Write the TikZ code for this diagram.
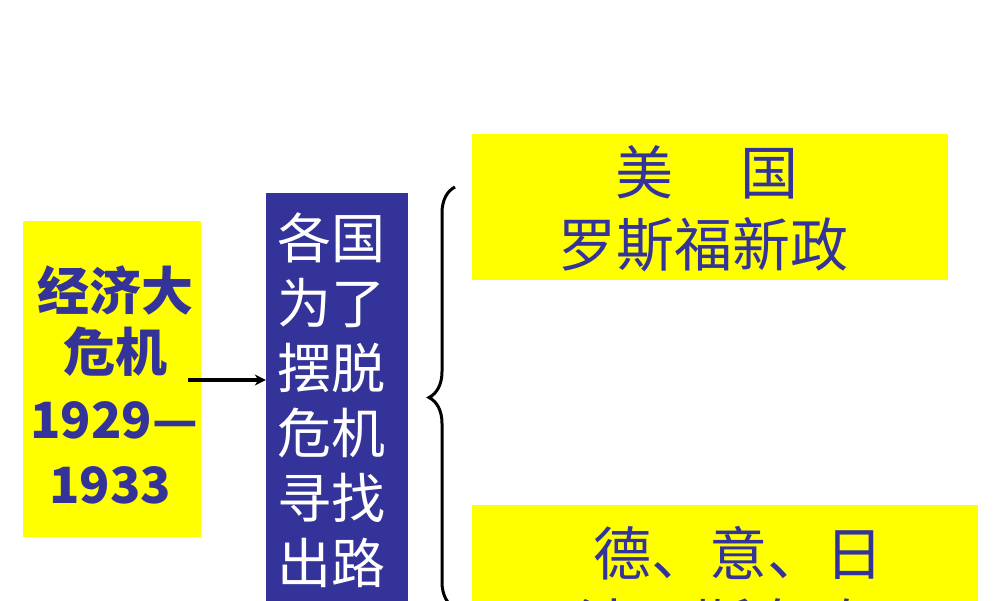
\documentclass[tikz,border=0pt]{standalone}
\usepackage{fontspec}
\newfontfamily\cjk{Noto Sans CJK SC}
\usetikzlibrary{arrows.meta,decorations.pathreplacing}
\definecolor{ink}{HTML}{333399}
\definecolor{hiyellow}{HTML}{FFFF00}
\tikzset{
  yellowbox/.style={draw=none,fill=hiyellow,inner sep=0pt},
  bluebox/.style={draw=none,fill=ink,inner sep=0pt},
  ylabel/.style={text=ink,inner sep=0pt,font=\cjk\bfseries},
  conn/.style={line width=3.2pt,-{Stealth[length=11pt,width=11pt]}},
}
\begin{document}
\begin{tikzpicture}[x=1pt,y=-1pt]
\useasboundingbox (0,0) rectangle (1000,600);
\clip (0,0) rectangle (1000,600);
\fill[white] (0,0) rectangle (1000,600);
% left box
\node[yellowbox,minimum width=178pt,minimum height=316pt] (crisis) at (112,379) {};
\node[ylabel,font=\cjk\bfseries\fontsize{52}{52}\selectfont] (l1) at (115,290) {经济大};
\node[ylabel,font=\cjk\bfseries\fontsize{52}{52}\selectfont] (l2) at (115,352) {危机};
\node[ylabel,font=\cjk\bfseries\fontsize{50}{50}\selectfont] (l3) at (114,420) {1929—};
\node[ylabel,font=\cjk\bfseries\fontsize{50}{50}\selectfont] (l4) at (110,485) {1933};
% blue box
\node[bluebox,minimum width=142pt,minimum height=440pt] (seek) at (337,413) {};
\node[text=white,inner sep=0pt,align=center,font=\cjk\fontsize{54}{65}\selectfont] (seektext) at (331,400) {各国\\为了\\摆脱\\危机\\寻找\\出路};
% arrow
\coordinate (astart) at (188,380);
\draw[conn] (astart) -- (seek.west |- astart);
% brace
\coordinate (btop) at (455,187);
\coordinate (bbot) at (455,608);
\draw[line width=3pt,decorate,decoration={brace,amplitude=26pt,aspect=0.5}] (bbot) -- (btop);
% top right box
\node[yellowbox,minimum width=476pt,minimum height=146pt] (usa) at (710,207) {};
\node[ylabel,font=\cjk\fontsize{58}{58}\selectfont] (usa1) at (707,172) {美\hspace{68pt}国};
\node[ylabel,font=\cjk\fontsize{58}{58}\selectfont] (usa2) at (703,245) {罗斯福新政};
% bottom right box
\node[yellowbox,minimum width=506pt,minimum height=160pt] (axis) at (725,585) {};
\node[ylabel,font=\cjk\fontsize{58}{58}\selectfont] (axis1) at (738,553) {德、意、日};
\node[ylabel,font=\cjk\fontsize{58}{58}\selectfont] (axis2) at (722,626) {法西斯专政};
\end{tikzpicture}
\end{document}
